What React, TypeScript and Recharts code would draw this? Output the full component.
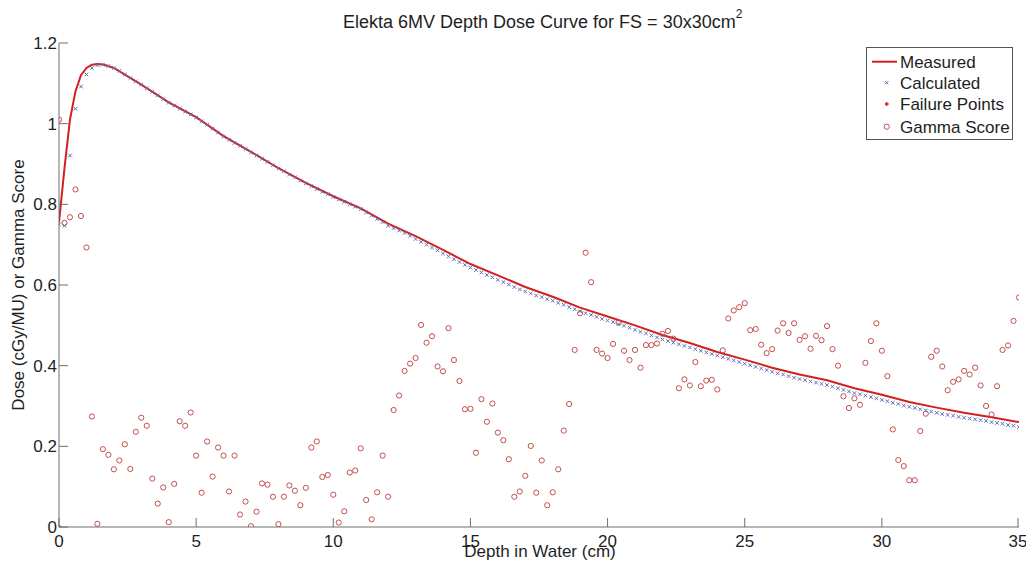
import { ComposedChart, Line, Scatter, XAxis, YAxis, Customized } from "recharts";

// depth grid (cm) shared by the calculated dose and the gamma score
const depths = [
  0, 0.2, 0.4, 0.6, 0.8, 1, 1.2, 1.4, 1.6, 1.8, 2, 2.2, 2.4, 2.6, 2.8, 3, 3.2, 3.4, 3.6, 3.8, 4, 4.2, 4.4, 4.6, 4.8,
  5, 5.2, 5.4, 5.6, 5.8, 6, 6.2, 6.4, 6.6, 6.8, 7, 7.2, 7.4, 7.6, 7.8, 8, 8.2, 8.4, 8.6, 8.8, 9, 9.2, 9.4, 9.6, 9.8,
  10, 10.2, 10.4, 10.6, 10.8, 11, 11.2, 11.4, 11.6, 11.8, 12, 12.2, 12.4, 12.6, 12.8, 13, 13.2, 13.4, 13.6, 13.8, 14, 14.2, 14.4, 14.6, 14.8,
  15, 15.2, 15.4, 15.6, 15.8, 16, 16.2, 16.4, 16.6, 16.8, 17, 17.2, 17.4, 17.6, 17.8, 18, 18.2, 18.4, 18.6, 18.8, 19, 19.2, 19.4, 19.6, 19.8,
  20, 20.2, 20.4, 20.6, 20.8, 21, 21.2, 21.4, 21.6, 21.8, 22, 22.2, 22.4, 22.6, 22.8, 23, 23.2, 23.4, 23.6, 23.8, 24, 24.2, 24.4, 24.6, 24.8,
  25, 25.2, 25.4, 25.6, 25.8, 26, 26.2, 26.4, 26.6, 26.8, 27, 27.2, 27.4, 27.6, 27.8, 28, 28.2, 28.4, 28.6, 28.8, 29, 29.2, 29.4, 29.6, 29.8,
  30, 30.2, 30.4, 30.6, 30.8, 31, 31.2, 31.4, 31.6, 31.8, 32, 32.2, 32.4, 32.6, 32.8, 33, 33.2, 33.4, 33.6, 33.8, 34, 34.2, 34.4, 34.6, 34.8,
  35,
];

const gammaScore = [
  1.01, 0.754, 0.768, 0.837, 0.771, 0.693, 0.274, 0.008, 0.193, 0.179, 0.143, 0.165, 0.205, 0.144, 0.236, 0.271, 0.251, 0.12, 0.058, 0.098, 0.012, 0.107, 0.262, 0.251, 0.284,
  0.177, 0.085, 0.212, 0.125, 0.197, 0.177, 0.088, 0.177, 0.031, 0.063, 0.002, 0.038, 0.108, 0.105, 0.075, 0.007, 0.075, 0.103, 0.09, 0.054, 0.097, 0.197, 0.212, 0.124, 0.129,
  0.08, 0.011, 0.039, 0.135, 0.14, 0.195, 0.067, 0.019, 0.086, 0.177, 0.075, 0.29, 0.326, 0.387, 0.405, 0.419, 0.501, 0.457, 0.473, 0.398, 0.386, 0.493, 0.414, 0.362, 0.292,
  0.293, 0.184, 0.317, 0.261, 0.306, 0.234, 0.215, 0.168, 0.075, 0.088, 0.127, 0.201, 0.085, 0.165, 0.054, 0.086, 0.143, 0.239, 0.305, 0.439, 0.53, 0.68, 0.607, 0.439, 0.43,
  0.419, 0.454, 0.507, 0.437, 0.414, 0.439, 0.395, 0.451, 0.451, 0.455, 0.479, 0.486, 0.467, 0.344, 0.366, 0.351, 0.409, 0.349, 0.363, 0.365, 0.341, 0.438, 0.517, 0.537, 0.545,
  0.555, 0.488, 0.491, 0.452, 0.431, 0.441, 0.487, 0.505, 0.481, 0.505, 0.464, 0.473, 0.442, 0.474, 0.463, 0.498, 0.441, 0.4, 0.324, 0.295, 0.319, 0.303, 0.407, 0.461, 0.505,
  0.437, 0.374, 0.242, 0.166, 0.151, 0.116, 0.116, 0.238, 0.281, 0.422, 0.437, 0.398, 0.339, 0.36, 0.366, 0.387, 0.378, 0.395, 0.351, 0.3, 0.279, 0.349, 0.439, 0.45, 0.511,
  0.569,
];

const calculatedDose = [
  0.75, 0.747, 0.921, 1.037, 1.092, 1.122, 1.138, 1.145, 1.146, 1.143, 1.138, 1.131, 1.122, 1.113, 1.105, 1.097, 1.088, 1.079, 1.07, 1.061, 1.052, 1.045, 1.037, 1.03, 1.023,
  1.015, 1.006, 0.997, 0.988, 0.978, 0.968, 0.96, 0.952, 0.945, 0.937, 0.929, 0.921, 0.913, 0.905, 0.897, 0.889, 0.882, 0.874, 0.867, 0.859, 0.852, 0.845, 0.838, 0.831, 0.825,
  0.818, 0.812, 0.806, 0.8, 0.794, 0.788, 0.78, 0.772, 0.764, 0.756, 0.747, 0.741, 0.735, 0.729, 0.722, 0.714, 0.707, 0.7, 0.693, 0.686, 0.678, 0.671, 0.664, 0.657, 0.65,
  0.643, 0.637, 0.631, 0.625, 0.619, 0.613, 0.607, 0.601, 0.595, 0.589, 0.584, 0.579, 0.574, 0.57, 0.565, 0.561, 0.556, 0.551, 0.545, 0.54, 0.535, 0.53, 0.526, 0.521, 0.516,
  0.512, 0.508, 0.503, 0.499, 0.494, 0.489, 0.484, 0.48, 0.475, 0.47, 0.465, 0.461, 0.457, 0.453, 0.449, 0.445, 0.441, 0.437, 0.433, 0.429, 0.425, 0.421, 0.417, 0.413, 0.409,
  0.405, 0.401, 0.397, 0.393, 0.389, 0.385, 0.381, 0.378, 0.374, 0.37, 0.367, 0.364, 0.361, 0.358, 0.355, 0.352, 0.348, 0.344, 0.34, 0.336, 0.332, 0.329, 0.326, 0.322, 0.319,
  0.315, 0.312, 0.308, 0.305, 0.301, 0.298, 0.295, 0.292, 0.289, 0.286, 0.283, 0.28, 0.278, 0.276, 0.273, 0.271, 0.269, 0.267, 0.265, 0.263, 0.26, 0.258, 0.256, 0.253, 0.251,
  0.248,
];

const measuredDepths = [
  0, 0.2, 0.4, 0.6, 0.8, 1, 1.2, 1.4, 1.6, 2, 3, 4, 5, 6, 7, 8, 9, 10, 11, 12, 13, 14, 15, 16, 17, 18,
  19, 20, 21, 22, 23, 24, 25, 26, 27, 28, 29, 30, 31, 32, 33, 34, 35,
];
const measuredDose = [
  0.755, 0.89, 1.01, 1.08, 1.12, 1.138, 1.146, 1.148, 1.147, 1.138, 1.097, 1.053, 1.016, 0.969, 0.93, 0.89, 0.853, 0.82, 0.79, 0.752, 0.721, 0.687, 0.652, 0.624, 0.595, 0.571,
  0.544, 0.522, 0.5, 0.476, 0.456, 0.434, 0.415, 0.395, 0.378, 0.364, 0.344, 0.328, 0.31, 0.296, 0.283, 0.272, 0.26,
];

const failureDepths = [0];
const failureScore = [0];

const xTicks = [0, 5, 10, 15, 20, 25, 30, 35];
const yTicks = [0, 0.2, 0.4, 0.6, 0.8, 1, 1.2];

const FONT = "'Liberation Sans', Arial, sans-serif";
const TEXT = "#1e1e1e";
const AXIS = "#6e6e6e";
const RED = "#d21f1f";
const CIRCLE = "#c0504d";
const BLUE = "#5d6fb8";

const measuredData = measuredDepths.map((depth, i) => ({ depth, value: measuredDose[i] }));
const calculatedData = depths.map((depth, i) => ({ depth, value: calculatedDose[i] }));
const gammaData = depths.map((depth, i) => ({ depth, value: gammaScore[i] }));
const failureData = failureDepths.map((depth, i) => ({ depth, value: failureScore[i] }));

function XTick({ x, y, payload }: any) {
  return (
    <g>
      <line x1={x} y1={y} x2={x} y2={y - 9} stroke={AXIS} />
      <text x={x} y={y + 20} textAnchor="middle" fontSize={17} fontFamily={FONT} fill={TEXT}>
        {payload.value}
      </text>
    </g>
  );
}

function YTick({ x, y, payload }: any) {
  return (
    <g>
      <line x1={x} y1={y} x2={x + 9} y2={y} stroke={AXIS} />
      <text x={x - 2} y={y + 6} textAnchor="end" fontSize={17} fontFamily={FONT} fill={TEXT}>
        {payload.value}
      </text>
    </g>
  );
}

const crossMark = (cx: number, cy: number, s: number) => (
  <path d={`M${cx - s},${cy - s}L${cx + s},${cy + s}M${cx - s},${cy + s}L${cx + s},${cy - s}`} stroke={BLUE} strokeWidth={1} fill="none" />
);

const CalcShape = (p: any) => crossMark(p.cx, p.cy, 1.8);
const GammaShape = (p: any) => <circle cx={p.cx} cy={p.cy} r={2.6} fill="none" stroke={CIRCLE} strokeWidth={1} />;
const FailShape = (p: any) => <circle cx={p.cx} cy={p.cy} r={2} fill={RED} />;

function Annotations() {
  const rows = [14.7, 35.7, 57, 79.7];
  const labels = ["Measured", "Calculated", "Failure Points", "Gamma Score"];
  return (
    <g fontFamily={FONT} fill={TEXT}>
      <text x={335} y={20} fontSize={18}>
        Elekta 6MV Depth Dose Curve for FS = 30x30cm
        <tspan dy={-10} fontSize={12}>2</tspan>
      </text>
      <text x={532} y={549} fontSize={17} textAnchor="middle">
        Depth in Water (cm)
      </text>
      <text x={16} y={277} fontSize={17} textAnchor="middle" transform="rotate(-90 16 277)">
        Dose (cGy/MU) or Gamma Score
      </text>
      <g transform="translate(858,39)">
        <rect x={0.5} y={0.5} width={146} height={92} fill="#fff" stroke="#555" />
        <line x1={6} y1={rows[0]} x2={31} y2={rows[0]} stroke={RED} strokeWidth={2} />
        {crossMark(20.7, rows[1], 1.6)}
        <path d={`M18.7,${rows[2]}L22.7,${rows[2]}M20.7,${rows[2] - 2}L20.7,${rows[2] + 2}`} stroke={RED} strokeWidth={1.5} />
        <circle cx={20.7} cy={rows[3]} r={2.6} fill="none" stroke={CIRCLE} />
        {labels.map((l, i) => (
          <text key={l} x={34} y={rows[i] + 6} fontSize={17}>
            {l}
          </text>
        ))}
      </g>
    </g>
  );
}

export default function App() {
  return (
    <ComposedChart width={1018} height={555} margin={{ top: 35, right: 7, bottom: 6, left: 0 }}>
      <XAxis
        type="number"
        dataKey="depth"
        domain={[0, 35]}
        ticks={xTicks}
        height={30}
        tickSize={0}
        tickMargin={0}
        tickLine={false}
        tick={<XTick />}
        stroke={AXIS}
        allowDataOverflow
      />
      <YAxis
        type="number"
        dataKey="value"
        domain={[0, 1.2]}
        ticks={yTicks}
        width={51}
        tickSize={0}
        tickMargin={0}
        tickLine={false}
        tick={<YTick />}
        stroke={AXIS}
        allowDataOverflow
      />
      <Scatter data={gammaData} dataKey="value" shape={GammaShape} isAnimationActive={false} />
      <Scatter data={calculatedData} dataKey="value" shape={CalcShape} isAnimationActive={false} />
      <Line
        data={measuredData}
        dataKey="value"
        type="linear"
        stroke={RED}
        strokeWidth={2}
        dot={false}
        activeDot={false}
        isAnimationActive={false}
      />
      <Scatter data={failureData} dataKey="value" shape={FailShape} isAnimationActive={false} />
      <Customized component={Annotations} />
    </ComposedChart>
  );
}
